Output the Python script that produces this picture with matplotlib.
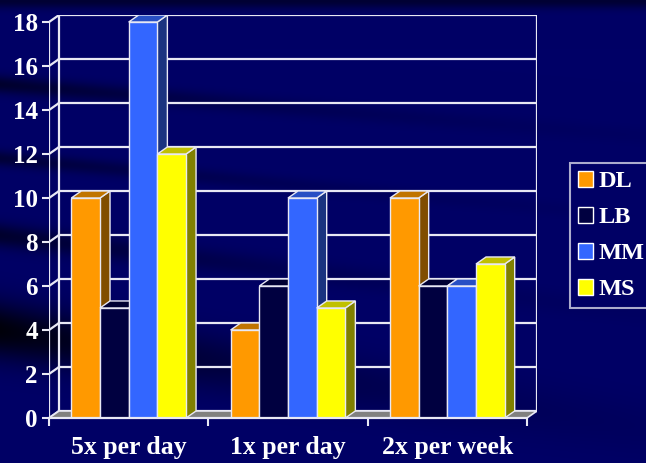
import numpy as np
import matplotlib
matplotlib.use("Agg")
import matplotlib.pyplot as plt
from matplotlib.patches import Polygon, Patch

# ---------------- data ----------------
categories = ["5x per day", "1x per day", "2x per week"]
series = ["DL", "LB", "MM", "MS"]
DL = [10, 4, 10]
LB = [5, 6, 6]
MM = [18, 10, 6]
MS = [12, 5, 7]
values = [DL, LB, MM, MS]
yticks = [0, 2, 4, 6, 8, 10, 12, 14, 16, 18]

# ---------------- style ----------------
front_cols = ["#FF9900", "#000040", "#3366FF", "#FFFF00"]
side_cols = ["#804D00", "#000024", "#1A3380", "#808000"]
top_cols = ["#C07400", "#000033", "#284FC4", "#C0C000"]
edge = "#E8E8F4"
font = "Liberation Serif"

W, H = 646, 463
fig = plt.figure(figsize=(W / 100, H / 100), dpi=100)

# background with dark streaks
yy, xx = np.mgrid[0:H, 0:W].astype(float)
dark = np.zeros((H, W))
for y0, slope, width, strength in [(84, 0.08, 9, 0.55), (158, 0.09, 8, 0.45),
                                   (235, 0.12, 12, 0.55), (330, 0.15, 28, 0.9)]:
    d = yy - (y0 + slope * xx)
    dark += strength * np.exp(-(d / width) ** 2) * np.exp(-xx / 260)
dark += 0.5 * np.exp(-(yy / 8) ** 2)
dark = np.clip(dark, 0, 0.92)
base = np.array([0.0, 0.0, 0.40])
img = base[None, None, :] * (1 - dark[..., None])
bg = fig.add_axes([0, 0, 1, 1])
bg.imshow(img, aspect="auto", extent=[0, 1, 0, 1], origin="upper")
bg.axis("off")

# main axes: front axis at x=0..3, y=0..18; depth offset DX, DY
DX, DY = 0.063, 0.32
ax = fig.add_axes([49 / W, 45 / H, 488 / W, 403 / H])
ax.set_facecolor("none")
ax.set_xlim(0, 3 + DX)
ax.set_ylim(0, 18 + DY)
for s in ax.spines.values():
    s.set_visible(False)

ymax = yticks[-1]
ncat = len(categories)
# back wall gridlines and left wall
for v in yticks:
    ax.plot([DX, ncat + DX], [v + DY, v + DY], color=edge, lw=1.6, zorder=1)
    ax.plot([0, DX], [v, v + DY], color=edge, lw=1.6, zorder=1)
ax.plot([DX, DX], [DY, ymax + DY], color=edge, lw=1.6, zorder=1)
ax.plot([ncat + DX, ncat + DX], [DY, ymax + DY], color=edge, lw=1.6, zorder=1)
ax.plot([0, 0], [0, ymax], color=edge, lw=1.6, zorder=1)
# floor
ax.add_patch(Polygon([(0, 0), (ncat, 0), (ncat + DX, DY), (DX, DY)],
                     closed=True, facecolor="#808080", edgecolor=edge, lw=1.2, zorder=2))

# bars
bw = 0.18
gap = (1 - bw * len(series)) / 2
z = 3
for c in range(ncat):
    for i in range(len(series)):
        v = values[i][c]
        x0 = c + gap + i * bw
        x1 = x0 + bw
        ax.add_patch(Polygon([(x1, 0), (x1 + DX, DY), (x1 + DX, v + DY), (x1, v)],
                             closed=True, facecolor=side_cols[i], edgecolor=edge, lw=1, zorder=z))
        ax.add_patch(Polygon([(x0, v), (x0 + DX, v + DY), (x1 + DX, v + DY), (x1, v)],
                             closed=True, facecolor=top_cols[i], edgecolor=edge, lw=1, zorder=z))
        ax.bar(x0, v, width=bw, align="edge", color=front_cols[i], edgecolor=edge,
               linewidth=1, zorder=z + 0.5)
        z += 1

ax.plot([0, ncat], [0, 0], color=edge, lw=1.6, zorder=50, clip_on=False)

# ticks
ax.set_yticks(yticks)
ax.set_yticklabels([str(t) for t in yticks])
ax.tick_params(axis="y", length=5, width=1.5, color=edge, direction="out", pad=3,
               labelcolor="white", labelsize=18)
ax.set_xticks([c + 0.5 for c in range(ncat)])
ax.set_xticklabels(categories)
ax.set_xticks(list(range(ncat + 1)), minor=True)
ax.tick_params(axis="x", which="major", length=0, pad=13, labelcolor="white", labelsize=18.5)
ax.tick_params(axis="x", which="minor", length=6, width=1.5, color=edge, direction="out")
for lab in ax.get_xticklabels() + ax.get_yticklabels():
    lab.set_fontfamily(font)
    lab.set_fontweight("bold")

# legend
handles = [Patch(facecolor=front_cols[i], edgecolor="white", lw=1) for i in range(len(series))]
leg = fig.legend(handles, series, loc="center left", bbox_to_anchor=(570 / W, 1 - 235.5 / H),
                 frameon=True, fancybox=False, handlelength=0.62, handleheight=0.62,
                 handletextpad=0.25, labelspacing=0.6, borderpad=0.32, borderaxespad=0,
                 prop={"family": font, "weight": "bold", "size": 17.5})
leg.get_frame().set_facecolor("#000066")
leg.get_frame().set_edgecolor("#D8D8E8")
leg.get_frame().set_linewidth(1.5)
for t in leg.get_texts():
    t.set_color("white")

fig.savefig("out.png", dpi=100, facecolor="#000066")
